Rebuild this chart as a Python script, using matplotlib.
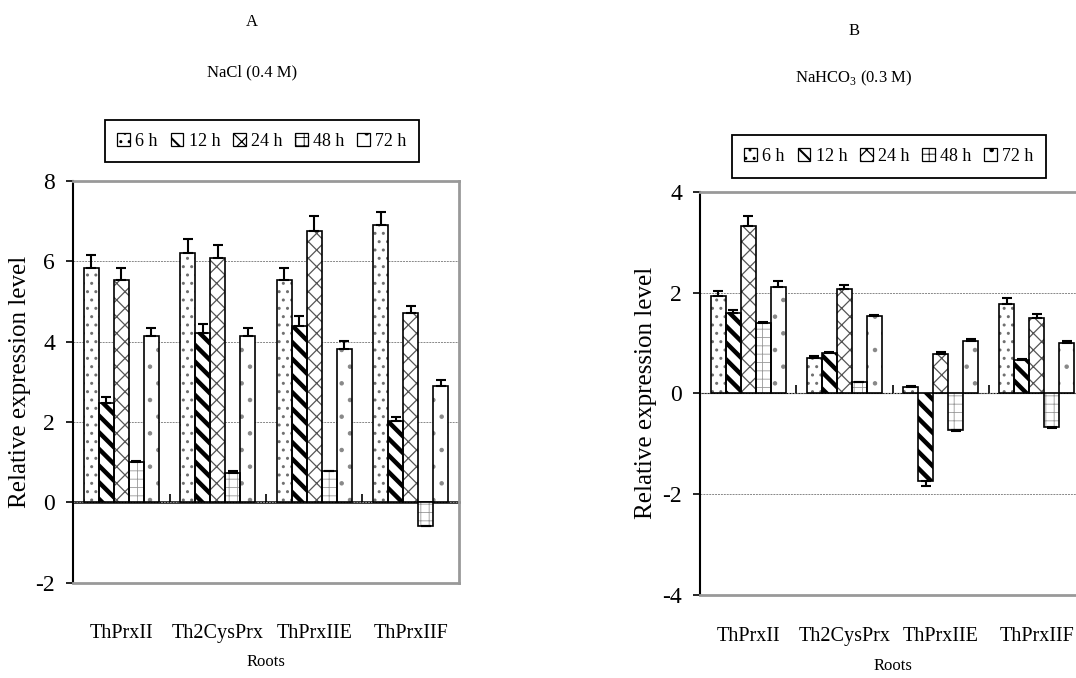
import numpy as np
import matplotlib
matplotlib.use("Agg")
import matplotlib.pyplot as plt

plt.rcParams['font.family'] = ['Liberation Serif', 'DejaVu Serif']
plt.rcParams['mathtext.fontset'] = 'custom'
plt.rcParams['mathtext.rm'] = 'Liberation Serif'

genes = ["ThPrxII", "Th2CysPrx", "ThPrxIIE", "ThPrxIIF"]
times = ["6 h", "12 h", "24 h", "48 h", "72 h"]

# Panel A: NaCl (0.4 M)
a_6h = [5.82, 6.19, 5.52, 6.91]
a_12h = [2.48, 4.22, 4.39, 2.03]
a_24h = [5.52, 6.08, 6.76, 4.70]
a_48h = [1.00, 0.74, 0.77, -0.58]
a_72h = [4.13, 4.13, 3.81, 2.89]
a_6h_err = [0.32, 0.36, 0.30, 0.30]
a_12h_err = [0.14, 0.21, 0.24, 0.08]
a_24h_err = [0.30, 0.31, 0.35, 0.19]
a_48h_err = [0.03, 0.03, 0.02, 0.02]
a_72h_err = [0.20, 0.20, 0.20, 0.15]

# Panel B: NaHCO3 (0.3 M)
b_6h = [1.94, 0.71, 0.13, 1.78]
b_12h = [1.59, 0.81, -1.73, 0.66]
b_24h = [3.31, 2.07, 0.79, 1.49]
b_48h = [1.39, 0.22, -0.73, -0.67]
b_72h = [2.10, 1.53, 1.04, 1.00]
b_6h_err = [0.09, 0.03, 0.01, 0.12]
b_12h_err = [0.07, 0.02, 0.11, 0.02]
b_24h_err = [0.21, 0.08, 0.03, 0.08]
b_48h_err = [0.02, 0.01, 0.02, 0.02]
b_72h_err = [0.13, 0.03, 0.03, 0.03]

a_ticks = [-2, 0, 2, 4, 6, 8]
b_ticks = [-4, -2, 0, 2, 4]

# hatch style per series: (hatch, hatch colour, hatch linewidth)
styles = [("..", "#707070", 1.0),
          ("\\\\", "black", 3.2),
          ("xx", "#555555", 0.9),
          ("++", "#999999", 0.6),
          (".", "#888888", 0.8)]

fig = plt.figure(figsize=(10.76, 6.78), dpi=100)


def set_hlw(p, lw):
    try:
        p.set_hatch_linewidth(lw)
    except Exception:
        pass


def draw_panel(ax, series, errs, ylim, yticks, border_sides, xlab_pad, tick_pad):
    n = len(series)
    group_w = 0.78
    bw = group_w / n
    x = np.arange(len(genes)) + 0.5
    handles = []
    for i, (vals, err) in enumerate(zip(series, errs)):
        vals = np.asarray(vals, float)
        err = np.asarray(err, float)
        pos = x - group_w / 2 + bw * (i + 0.5)
        h, hc, hlw = styles[i]
        hb = ax.bar(pos, vals, bw, color="white", edgecolor=hc, linewidth=0,
                    hatch=h, zorder=2)
        for p in hb:
            set_hlw(p, hlw)
        ax.bar(pos, vals, bw, fill=False, edgecolor="black",
               linewidth=1.2, zorder=3)
        lower = np.where(vals < 0, err, 0)
        upper = np.where(vals >= 0, err, 0)
        ax.errorbar(pos, vals, yerr=[lower, upper], fmt="none", ecolor="black",
                    elinewidth=1.5, capsize=3.5, capthick=1.5, zorder=4)
        handles.append(hb[0])
    ax.set_xlim(0, len(genes))
    ax.set_ylim(*ylim)
    ax.set_yticks(yticks)
    ax.set_yticklabels([str(t) for t in yticks])
    ax.tick_params(axis="y", direction="out", length=5, width=1.2, pad=8,
                   labelsize=17)
    ax.yaxis.grid(True, color="#888888", linestyle=(0, (2, 1)), linewidth=0.7)
    ax.set_axisbelow(True)
    ax.set_xticks(x)
    ax.set_xticklabels(genes, fontsize=14.5)
    ax.tick_params(axis="x", length=0, pad=tick_pad)
    ax.set_xlabel("Roots", fontsize=12, labelpad=xlab_pad)
    ax.set_ylabel("Relative expression level", fontsize=18)
    ax.spines["left"].set_color("black")
    ax.spines["left"].set_linewidth(1.5)
    for s in ["top", "bottom", "right"]:
        ax.spines[s].set_color("#999999")
        ax.spines[s].set_linewidth(2.0)
        ax.spines[s].set_visible(s in border_sides)
    # zero line with group separator ticks pointing upward
    zero_frac = (0 - ylim[0]) / (ylim[1] - ylim[0])
    sec = ax.secondary_xaxis(zero_frac)
    sec.spines["bottom"].set_color("black")
    sec.spines["bottom"].set_linewidth(1.8)
    sec.set_xticks(np.arange(1, len(genes)))
    sec.set_xticklabels([])
    sec.tick_params(axis="x", direction="in" if zero_frac < 0.5 else "out",
                    length=6, width=1.2)
    return handles


axA = fig.add_axes([73 / 1076, 1 - 582.7 / 678, 386 / 1076, 402 / 678])
hA = draw_panel(axA, [a_6h, a_12h, a_24h, a_48h, a_72h],
                [a_6h_err, a_12h_err, a_24h_err, a_48h_err, a_72h_err],
                (-2, 8), a_ticks, ["top", "bottom", "right"], 8, 30)
axA.yaxis.set_label_coords(-0.108, 0.5)

axB = fig.add_axes([700 / 1076, 1 - 595 / 678, 385 / 1076, 403.3 / 678])
hB = draw_panel(axB, [b_6h, b_12h, b_24h, b_48h, b_72h],
                [b_6h_err, b_12h_err, b_24h_err, b_48h_err, b_72h_err],
                (-4, 4), b_ticks, ["top", "bottom"], 9, 23)
axB.yaxis.set_label_coords(-0.112, 0.5)

leg_kw = dict(ncol=5, loc="center", fontsize=13, frameon=True, fancybox=False,
              edgecolor="black", framealpha=1, handlelength=0.7,
              handleheight=0.7, handletextpad=0.3, columnspacing=0.7,
              borderpad=0.7, borderaxespad=0)
legA = fig.legend(hA, times, bbox_to_anchor=(262 / 1076, 1 - 141 / 678), **leg_kw)
legB = fig.legend(hB, times, bbox_to_anchor=(889 / 1076, 1 - 156.5 / 678), **leg_kw)
for leg in (legA, legB):
    leg.get_frame().set_linewidth(1.3)
    for h, st in zip(leg.legend_handles, styles):
        h.set_edgecolor("black")
        h.set_linewidth(0.9)
        set_hlw(h, min(st[2], 1.5))

fig.text(252 / 1076, 1 - 22.5 / 678, "A", ha="center", va="center", fontsize=12)
fig.text(252 / 1076, 1 - 72 / 678, "NaCl (0.4 M)", ha="center", va="center", fontsize=12)
fig.text(854 / 1076, 1 - 31 / 678, "B", ha="center", va="center", fontsize=12)
fig.text(854 / 1076, 1 - 78 / 678, r"NaHCO$_\mathregular{3}$ (0.3 M)", ha="center",
         va="center", fontsize=12)

fig.savefig("out.png", dpi=100)
